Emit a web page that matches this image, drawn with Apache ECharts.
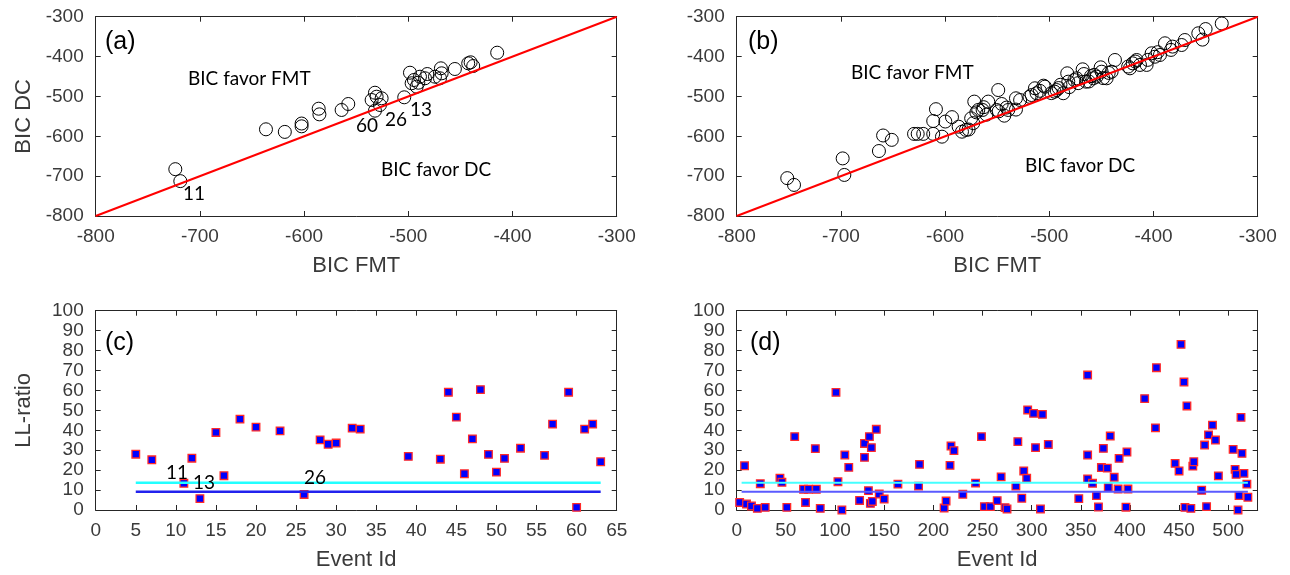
<!DOCTYPE html>
<html>
<head>
<meta charset="utf-8">
<title>BIC / LL-ratio</title>
<script src="https://cdn.jsdelivr.net/npm/echarts@6/dist/echarts.min.js"></script>
<style>
  html, body { margin: 0; padding: 0; background: #fff; }
  #main { width: 1290px; height: 575px; }
</style>
</head>
<body>
<div id="main"></div>
<script>
// (a) BIC of the 1st event set
const bicFmtA = [-723.6, -718.8, -636.6, -618.5, -602.4, -602.4, -586.0, -585.3, -564.0, -557.6, -535.2, -532.0,
  -532.0, -530.4, -527.2, -525.6, -503.9, -498.4, -496.8, -494.6, -492.0, -490.4, -488.8, -484.0, -481.8, -474.4,
  -469.6, -468.7, -468.0, -455.3, -442.5, -440.2, -437.7, -414.7];
const bicDcA = [-682.5, -712.5, -582.5, -589.0, -568.0, -575.0, -530.8, -545.0, -534.0, -519.0, -509.0, -490.7,
  -535.8, -500.7, -521.5, -504.7, -502.2, -440.5, -467.0, -458.8, -475.6, -465.6, -450.5, -454.5, -443.8, -450.5,
  -454.5, -429.5, -442.0, -431.2, -417.0, -414.4, -423.7, -390.3];

// (b) BIC of the 2nd event set
const bicFmtB = [-751.5, -745.0, -698.3, -696.7, -663.5, -659.5, -651.2, -629.8, -626.3, -621.0, -611.4, -611.4,
  -608.8, -603.0, -599.8, -593.4, -587.0, -583.8, -580.0, -577.4, -575.0, -573.0, -572.0, -570.0, -568.2, -564.0,
  -563.0, -560.3, -558.6, -550.5, -549.0, -548.6, -545.7, -543.2, -541.0, -539.4, -532.0, -532.0, -528.0, -519.0,
  -517.0, -513.8, -512.2, -509.0, -505.5, -504.2, -498.0, -495.0, -493.0, -491.0, -489.3, -486.6, -482.8, -481.8,
  -480.8, -476.0, -473.8, -472.3, -468.0, -466.8, -464.8, -462.0, -460.0, -457.8, -456.8, -454.6, -450.7, -449.8,
  -448.3, -445.0, -443.0, -440.2, -437.0, -424.3, -422.6, -420.0, -417.5, -416.2, -413.0, -406.6, -405.5, -401.8,
  -398.6, -396.0, -393.8, -389.0, -383.2, -381.7, -373.0, -369.9, -357.0, -353.0, -350.0, -334.5];
const bicDcB = [-705.0, -722.0, -655.5, -697.0, -637.0, -598.0, -609.0, -594.0, -594.0, -594.0, -594.0, -561.7,
  -532.0, -601.0, -563.0, -552.0, -576.0, -588.5, -584.0, -583.0, -555.0, -567.0, -513.0, -540.0, -534.0, -534.0,
  -527.0, -545.8, -513.0, -534.0, -484.0, -537.5, -519.0, -548.3, -528.0, -534.0, -504.7, -533.0, -509.0, -501.0,
  -496.5, -479.6, -492.0, -486.0, -473.0, -475.6, -491.7, -488.0, -484.0, -479.0, -470.8, -492.0, -442.0, -463.0,
  -476.7, -459.0, -454.5, -466.7, -432.0, -443.8, -463.0, -462.5, -449.0, -454.5, -445.8, -450.5, -427.0, -438.0,
  -454.0, -454.5, -441.0, -438.0, -408.6, -425.0, -429.5, -417.0, -412.5, -408.6, -421.0, -421.0, -408.3, -391.8,
  -400.4, -389.0, -396.0, -366.7, -383.3, -375.0, -371.0, -358.5, -341.6, -357.5, -331.0, -317.0];

// (c) LL-ratio per event, 1st set
const eventIdC = [5, 7, 11, 12, 13, 15, 16, 18, 20, 23, 26, 28, 29, 30, 32, 33, 39, 43, 44, 45, 46, 47, 48, 49, 50,
  51, 53, 56, 57, 59, 60, 61, 62, 63];
const llRatioC = [28.0, 25.2, 13.4, 26.0, 5.7, 38.9, 17.2, 45.6, 41.6, 39.7, 7.8, 35.2, 33.0, 33.6, 41.1, 40.6, 26.9,
  25.5, 59.1, 46.6, 18.2, 35.7, 60.4, 27.9, 19.0, 25.9, 31.0, 27.4, 43.1, 59.1, 1.3, 40.6, 43.1, 24.2];

// (d) LL-ratio per event, 2nd set
const eventIdD = [3, 8, 10, 15, 21, 24, 29, 44, 46, 51, 59, 68, 70, 73, 80, 81, 85, 101, 103, 107, 110, 114, 125,
  130, 130, 134, 135, 136, 137, 138, 142, 145, 150, 164, 185, 186, 211, 213, 217, 218, 221, 230, 243, 249, 252, 258,
  265, 269, 273, 275, 284, 286, 290, 292, 295, 296, 302, 304, 309, 311, 317, 348, 357, 357, 357, 362, 366, 368, 371,
  373, 377, 378, 380, 384, 388, 389, 396, 397, 398, 415, 426, 427, 446, 450, 452, 455, 456, 458, 462, 464, 465, 473,
  476, 478, 480, 484, 487, 490, 505, 507, 508, 510, 511, 513, 514, 516, 519, 520];
const llRatioD = [3.8, 22.2, 3.0, 2.0, 0.8, 13.2, 1.3, 16.0, 13.9, 1.3, 36.8, 10.4, 3.8, 10.4, 30.8, 10.4, 0.8, 59.0,
  14.2, 0.0, 27.6, 21.4, 4.8, 33.4, 26.4, 9.7, 36.8, 3.3, 31.3, 4.3, 40.5, 8.0, 5.5, 13.0, 12.0, 22.9, 1.0, 4.5, 22.4,
  32.1, 29.8, 7.9, 13.5, 36.8, 1.7, 1.7, 4.7, 16.6, 1.2, 0.5, 12.0, 34.3, 5.9, 19.6, 15.9, 50.2, 48.5, 31.3, 0.5, 48.0,
  32.9, 5.7, 27.6, 15.6, 67.7, 13.4, 7.2, 1.5, 21.3, 30.9, 21.0, 11.3, 37.1, 16.4, 10.5, 25.9, 1.4, 29.1, 10.5, 55.9,
  41.2, 71.4, 23.4, 19.6, 83.1, 64.2, 1.3, 52.2, 0.8, 22.0, 24.2, 9.9, 32.6, 1.7, 37.7, 42.6, 35.1, 17.1, 30.4, 20.4,
  17.9, 0.0, 7.2, 46.5, 28.4, 18.4, 13.0, 6.4];

// reference lines
const diagonal = [-800, -300];
const cyanLevel = 13.7;
const blueLevel = 9.2;
const lineXC = [5, 63];
const lineXD = [5, 520];

const zip = (xs, ys) => xs.map((x, i) => [x, ys[i]]);

const AXIS = '#262626';
const LABEL = '#3a3a3a';
const SANS = 'Liberation Sans, Arial, sans-serif';
const NOTE = 'Lato, Open Sans, sans-serif';

const grids = [
  {left: 95.7, top: 16.7, width: 521, height: 199.3},
  {left: 736.7, top: 16.7, width: 521, height: 199.3},
  {left: 95.7, top: 310.7, width: 521, height: 199.3},
  {left: 736.7, top: 310.7, width: 521, height: 199.3},
];

function axisPair(dim, grid, min, max, interval, name) {
  const base = {
    gridIndex: grid, type: 'value', min: min, max: max, interval: interval,
    splitLine: {show: false},
    axisLine: {show: true, onZero: false, lineStyle: {color: AXIS, width: 1}},
    axisTick: {show: true, inside: true, length: 5, lineStyle: {color: AXIS, width: 1}},
  };
  const main = Object.assign({}, base, {
    position: dim === 'x' ? 'bottom' : 'left',
    axisLabel: {
      color: LABEL, fontSize: 19, fontFamily: SANS, margin: dim === 'x' ? 11 : 12,
      showMaxLabel: max % interval === 0,
    },
  });
  if (name) {
    Object.assign(main, {
      name: name, nameLocation: 'middle', nameGap: dim === 'x' ? 39 : 61,
      nameRotate: dim === 'x' ? 0 : 90,
      nameTextStyle: {color: LABEL, fontSize: 22, fontFamily: SANS},
    });
  }
  const twin = Object.assign({}, base, {
    position: dim === 'x' ? 'top' : 'right',
    axisLabel: {show: false},
  });
  return [main, twin];
}

const xAxis = [].concat(
  axisPair('x', 0, -800, -300, 100, 'BIC FMT'),
  axisPair('x', 1, -800, -300, 100, 'BIC FMT'),
  axisPair('x', 2, 0, 65, 5, 'Event Id'),
  axisPair('x', 3, 0, 530, 50, 'Event Id')
);
const yAxis = [].concat(
  axisPair('y', 0, -800, -300, 100, 'BIC DC'),
  axisPair('y', 1, -800, -300, 100, null),
  axisPair('y', 2, 0, 100, 10, 'LL-ratio'),
  axisPair('y', 3, 0, 100, 10, null)
);

function circles(g, data) {
  return {
    type: 'scatter', xAxisIndex: 2 * g, yAxisIndex: 2 * g, data: data,
    symbol: 'circle', symbolSize: 13, z: 2,
    itemStyle: {color: 'rgba(0,0,0,0)', borderColor: '#000', borderWidth: 1, opacity: 1},
  };
}
function squares(g, data) {
  return {
    type: 'scatter', xAxisIndex: 2 * g, yAxisIndex: 2 * g, data: data,
    symbol: 'rect', symbolSize: 7.6, z: 2,
    itemStyle: {color: '#0000ff', borderColor: '#ff2a2a', borderWidth: 1.3, opacity: 1},
  };
}
function refLine(g, data, color, width) {
  return {
    type: 'line', xAxisIndex: 2 * g, yAxisIndex: 2 * g, data: data,
    symbol: 'none', z: 3, lineStyle: {color: color, width: width},
  };
}

const series = [
  circles(0, zip(bicFmtA, bicDcA)),
  refLine(0, zip(diagonal, diagonal), '#ff0000', 2),
  circles(1, zip(bicFmtB, bicDcB)),
  refLine(1, zip(diagonal, diagonal), '#ff0000', 2),
  squares(2, zip(eventIdC, llRatioC)),
  refLine(2, lineXC.map(x => [x, cyanLevel]), '#22ffff', 2.5),
  refLine(2, lineXC.map(x => [x, blueLevel]), '#2222ee', 2.5),
  squares(3, zip(eventIdD, llRatioD)),
  refLine(3, lineXD.map(x => [x, cyanLevel]), '#44ffff', 2),
  refLine(3, lineXD.map(x => [x, blueLevel]), '#5a5aff', 2),
];

function text(x, y, str, size, family) {
  return {
    type: 'text', x: x, y: y, z: 10,
    style: {text: str, fill: '#000', fontSize: size, fontFamily: family, align: 'left', verticalAlign: 'middle'},
  };
}

const graphic = [
  text(105, 42, '(a)', 25, SANS),
  text(748, 42, '(b)', 25, SANS),
  text(105, 343, '(c)', 25, SANS),
  text(750, 343, '(d)', 25, SANS),
  text(188, 79, 'BIC favor FMT', 19, NOTE),
  text(381, 170, 'BIC favor DC', 19, NOTE),
  text(851, 73, 'BIC favor FMT', 19, NOTE),
  text(1025, 166, 'BIC favor DC', 19, NOTE),
  text(183, 194, '11', 19, NOTE),
  text(356, 126, '60', 19, NOTE),
  text(385, 120, '26', 19, NOTE),
  text(410, 110, '13', 19, NOTE),
  text(166, 473, '11', 19, NOTE),
  text(193, 483, '13', 19, NOTE),
  text(304, 478, '26', 19, NOTE),
];

const chart = echarts.init(document.getElementById('main'));
chart.setOption({
  animation: false,
  backgroundColor: '#fff',
  grid: grids,
  xAxis: xAxis,
  yAxis: yAxis,
  series: series,
  graphic: graphic,
});
</script>
</body>
</html>
